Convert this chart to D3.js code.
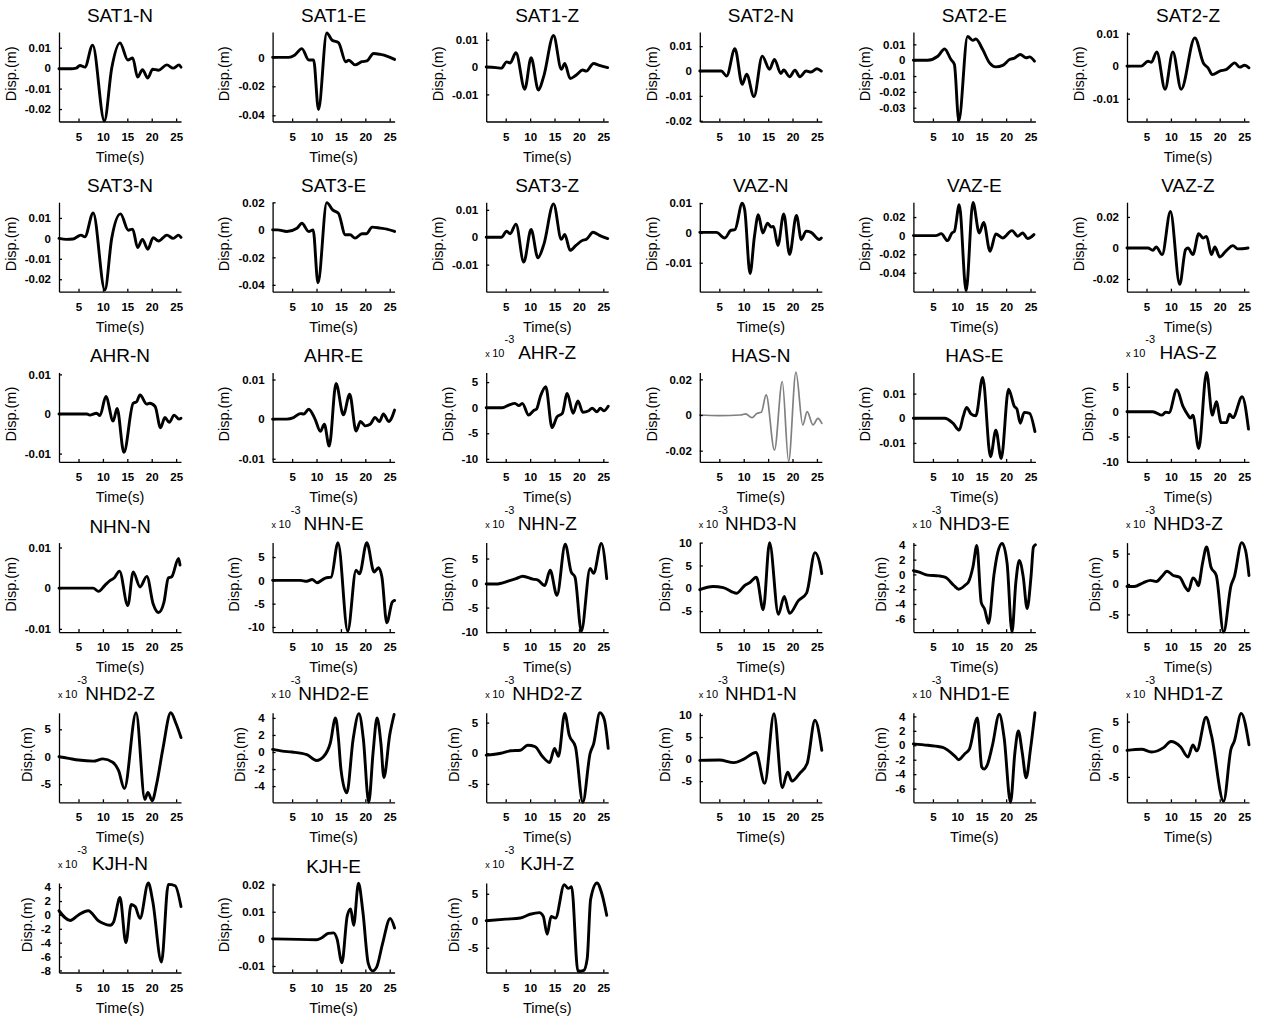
<!DOCTYPE html>
<html>
<head>
<meta charset="utf-8">
<script src="https://cdn.jsdelivr.net/npm/d3@7"></script>
<style>
  body { margin: 0; background: #fff; }
  svg { font-family: "Liberation Sans", Arial, Helvetica, sans-serif; background: #fff; }
  .gfx__axis path, .gfx__axis line { stroke: #000; stroke-width: 1.3; }
  .gfx__axis text { font-size: 11.5px; font-weight: bold; fill: #000; }
  .gfx__title { font-size: 19px; fill: #000; text-anchor: middle; }
  .gfx__label { font-size: 14.5px; fill: #000; text-anchor: middle; }
  .gfx__exp { font-size: 11px; fill: #000; }
  .gfx__trace { fill: none; stroke: #000; stroke-width: 2.9; stroke-linejoin: round; stroke-linecap: round; }
  .gfx__trace.gray { stroke: #808080; stroke-width: 1.7; }
</style>
</head>
<body>
<svg id="waveforms" width="1263" height="1019"></svg>
<script>
// panel titles, left to right, top to bottom
const titles = [
    "SAT1-N", "SAT1-E", "SAT1-Z", "SAT2-N", "SAT2-E", "SAT2-Z",
    "SAT3-N", "SAT3-E", "SAT3-Z", "VAZ-N", "VAZ-E", "VAZ-Z",
    "AHR-N", "AHR-E", "AHR-Z", "HAS-N", "HAS-E", "HAS-Z",
    "NHN-N", "NHN-E", "NHN-Z", "NHD3-N", "NHD3-E", "NHD3-Z",
    "NHD2-Z", "NHD2-E", "NHD2-Z", "NHD1-N", "NHD1-E", "NHD1-Z",
    "KJH-N", "KJH-E", "KJH-Z"
];
// panels whose values are given in units of 10^-3 m
const milliPanels = [14, 17, 19, 20, 21, 22, 23, 24, 25, 26, 27, 28, 29, 30, 32];
const noTimeLabel = [3, 4];
const grayPanels = [15];

const timeRange = [1, 26];
const timeTicks = [5, 10, 15, 20, 25];

const yLimits = [
    [-0.0261, 0.0177], [-0.0443, 0.0175], [-0.0199, 0.0128], [-0.0203, 0.0157], [-0.0387, 0.0178], [-0.017, 0.0105],
    [-0.0261, 0.0177], [-0.045, 0.0201], [-0.0199, 0.0128], [-0.0197, 0.0103], [-0.0604, 0.036], [-0.0282, 0.0295],
    [-0.0121, 0.0105], [-0.0108, 0.0118], [-10.6, 6.9], [-0.0263, 0.0239], [-0.0177, 0.0186], [-10.1, 7.9],
    [-0.0108, 0.0112], [-11.1, 8.1], [-10, 8.25], [-9.6, 10], [-7.8, 4.3], [-7.9, 6.8],
    [-8.3, 8.0], [-5.9, 4.6], [-8, 6.6], [-9.8, 10.5], [-7.9, 4.5], [-9.6, 6.6],
    [-8.3, 4.6], [-0.0124, 0.0206], [-9.6, 7]
];
const yTicks = [
    [-0.02, -0.01, 0, 0.01], [-0.04, -0.02, 0], [-0.01, 0, 0.01], [-0.02, -0.01, 0, 0.01], [-0.03, -0.02, -0.01, 0, 0.01], [-0.01, 0, 0.01],
    [-0.02, -0.01, 0, 0.01], [-0.04, -0.02, 0, 0.02], [-0.01, 0, 0.01], [-0.01, 0, 0.01], [-0.04, -0.02, 0, 0.02], [-0.02, 0, 0.02],
    [-0.01, 0, 0.01], [-0.01, 0, 0.01], [-10, -5, 0, 5], [-0.02, 0, 0.02], [-0.01, 0, 0.01], [-10, -5, 0, 5],
    [-0.01, 0, 0.01], [-10, -5, 0, 5], [-10, -5, 0, 5], [-5, 0, 5, 10], [-6, -4, -2, 0, 2, 4], [-5, 0, 5],
    [-5, 0, 5], [-4, -2, 0, 2, 4], [-5, 0, 5], [-5, 0, 5, 10], [-6, -4, -2, 0, 2, 4], [-5, 0, 5],
    [-8, -6, -4, -2, 0, 2, 4], [-0.01, 0, 0.01, 0.02], [-5, 0, 5]
];

// [time (s), displacement]
const sat1N = [[1,-0.0003],[3.5,-0.0003],[4.5,0],[5.3,0.0013],[6.3,0.0005],[7.9,0.0113],[10.3,-0.0258],[11.8,0],[13.5,0.0124],[15.1,0.004],[16.1,0.005],[17.1,-0.0044],[18.1,-0.0008],[19.2,-0.0048],[20.2,-0.0005],[21.4,-0.001],[23.1,0.0016],[24.4,0],[25.6,0.0016],[26,0.0005]];
const sat1E = [[1,0],[4.3,0],[5.5,0.0015],[7.0,0.006],[8.4,-0.0018],[9.4,-0.0018],[10.4,-0.036],[12.1,0.0168],[13.2,0.0118],[14.5,0.0102],[16.0,-0.003],[16.6,-0.002],[17.9,-0.0052],[19.3,-0.003],[20.3,-0.0025],[21.7,0.0027],[23.1,0.002],[24.4,0.0009],[26,-0.0014]];
const sat1Z = [[1,0],[3,-0.0002],[4.1,-0.0004],[5.2,0.0019],[5.9,0.0015],[7.1,0.0052],[8.9,-0.0081],[10.2,0.0034],[11.7,-0.0084],[12.8,-0.0033],[14.8,0.0115],[16.4,-0.0008],[17.1,0.0013],[18.2,-0.0042],[19.4,-0.003],[20.8,-0.0011],[21.5,-0.0015],[23.0,0.0013],[24.2,0.0006],[25.9,-0.0002]];
const sat2N = [[1,0],[5.4,0],[6.5,-0.002],[8.2,0.009],[9.7,-0.0053],[10.6,-0.0013],[12.1,-0.0103],[13.8,0.006],[15.3,0.0007],[16.3,0.0047],[17.6,-0.001],[18.2,0.0004],[19.4,-0.0023],[20.5,0.0003],[21.5,-0.0023],[22.8,0],[23.8,-0.0004],[25.0,0.0009],[25.9,0]];
const sat2E = [[1,0],[3.9,0],[6.0,0.0025],[7.4,0.0071],[8.7,0.0004],[9.4,-0.0027],[10.3,-0.0383],[12.1,0.015],[13.2,0.0125],[13.8,0.0134],[15.2,0.0067],[16.6,-0.0017],[17.9,-0.0042],[19.3,-0.0033],[20.7,0.0004],[21.7,0.0013],[22.9,0.0036],[24.1,0.0015],[24.8,0.0021],[25.8,-0.0006]];
const sat2Z = [[1,0],[3.9,0],[5.3,0.0015],[6.0,0.0012],[7.1,0.0044],[8.8,-0.0071],[10.4,0.0044],[12.1,-0.0071],[14.9,0.0087],[16.7,0.0008],[17.6,-0.0005],[18.5,-0.0026],[20.0,-0.0015],[21.4,-0.001],[23.1,0.001],[24.1,-0.0003],[25.1,0.0003],[26,-0.0005]];
const sat3N = [[1,0],[2.5,-0.0005],[3.9,-0.0003],[5.5,0.0016],[6.3,0.0008],[8.0,0.0124],[10.4,-0.0253],[11.8,0],[13.6,0.012],[15.2,0.004],[16.1,0.0045],[17.1,-0.0045],[18.1,-0.0005],[19.2,-0.0053],[20.3,0.0003],[21.4,-0.0013],[23.1,0.0016],[24.4,0],[25.5,0.0016],[26,0.0005]];
const sat3E = [[1,0],[2,0],[3.9,-0.0012],[6.0,0.0012],[7.0,0.0048],[8.4,-0.0012],[9.3,0],[10.3,-0.0386],[12.1,0.0198],[13.3,0.0145],[14.5,0.012],[15.9,-0.0036],[16.9,-0.0036],[17.9,-0.006],[19.3,-0.0029],[20.2,-0.0029],[21.4,0.002],[23.1,0.0012],[24.4,0.0005],[26,-0.0012]];
const sat3Z = [[1,0],[4.1,0],[5.2,0.0022],[5.9,0.0013],[7.1,0.0048],[8.7,-0.0091],[10.2,0.0028],[11.6,-0.0075],[12.8,-0.0027],[14.8,0.0122],[16.4,-0.0008],[17.1,0.001],[18.2,-0.0048],[19.4,-0.003],[20.8,-0.0011],[21.5,-0.0008],[22.9,0.0018],[24.2,0.0007],[25.9,-0.0005]];
const vazN = [[1,0.0002],[4.4,0.0002],[6.1,-0.0017],[7.4,0.0009],[8.2,0.0011],[9.7,0.01],[10.2,0.0078],[11.3,-0.0136],[12.2,-0.0011],[13.0,0.0061],[13.9,0],[14.9,0.0033],[15.6,0.002],[16.1,0.0022],[17.0,-0.0042],[18.2,0.0064],[19.4,-0.0072],[20.8,0.0059],[21.8,-0.0022],[22.8,0.0006],[23.8,0.0002],[25.5,-0.0022],[25.9,-0.0017]];
const vazE = [[1,0],[5.6,0],[6.7,0.0021],[8.0,-0.0054],[8.9,0.0029],[9.4,0.0046],[10.4,0.0332],[11.8,-0.0596],[13.2,0.0357],[14.5,0.0029],[15.4,0.0143],[16.7,-0.0168],[17.9,0.0018],[19.3,-0.0025],[21.2,0.0054],[22.4,-0.0007],[23.4,0.0029],[24.4,-0.0032],[25.7,0.0011]];
const vazZ = [[1,0],[5.3,0],[6.3,-0.0015],[7.0,0.0006],[8.2,-0.0043],[9.9,0.0235],[11.8,-0.0235],[13.0,-0.0011],[13.5,0],[14.5,-0.0043],[15.7,0.0092],[16.6,0.0064],[17.3,0.0075],[18.3,-0.0043],[19.0,0.0006],[20.0,-0.0058],[21.4,-0.0015],[22.7,0.0015],[23.7,-0.0006],[25.8,0]];
const ahrN = [[1,0],[6.7,0],[7.3,-0.0003],[8.7,0.0002],[9.4,-0.0004],[10.6,0.0044],[12.1,-0.0018],[12.9,0.0014],[14.3,-0.0097],[16.2,0.0027],[16.9,0.0031],[17.6,0.0048],[19.0,0.0025],[19.6,0.0027],[20.7,0.0019],[21.8,-0.0035],[22.7,-0.0009],[23.6,-0.0021],[24.6,-0.0003],[25.6,-0.0013],[26,-0.0011]];
const ahrE = [[1,0],[3.9,0],[5.3,0.0004],[6.7,0.0014],[7.4,0.0013],[8.4,0.0025],[9.7,0],[10.8,-0.0031],[11.6,-0.0013],[12.6,-0.0068],[14.0,0.009],[15.5,0.0011],[16.8,0.0063],[18.1,-0.003],[19.0,-0.0006],[20.0,-0.0017],[21.0,-0.0013],[22.0,0.0004],[22.9,-0.0006],[23.7,0.0013],[24.8,-0.0006],[26,0.0023]];
const ahrZ = [[1,0],[4.3,0],[5.6,0.5],[6.9,0.85],[7.7,0.4],[8.4,0.85],[9.7,-1.44],[10.8,-0.5],[11.3,-0.3],[12.1,2.2],[13.2,4.1],[14.5,-3.9],[15.5,-1.8],[16.6,-1.1],[17.6,2.8],[18.8,-1.1],[19.8,1.3],[20.8,-0.9],[22.0,-0.6],[22.7,-0.1],[23.7,-0.8],[24.4,-0.1],[25.1,-0.6],[26,0.3]];
const hasN = [[1,0],[5,-0.0003],[9.3,0],[10.4,0.0006],[11.7,-0.0015],[12.7,0.0009],[13.6,0.0015],[14.6,0.0113],[16.3,-0.0197],[17.9,0.0188],[19.2,-0.026],[20.7,0.024],[22.1,-0.0056],[23.0,0.0019],[24.2,-0.0056],[25.2,-0.0019],[26,-0.0047]];
const hasE = [[1,0],[7.4,0],[9.1,-0.002],[10.4,-0.0048],[11.2,0.0007],[11.9,0.0044],[12.8,0.0018],[13.8,0.001],[15.2,0.0166],[16.8,-0.0156],[17.9,-0.0048],[19.0,-0.0163],[20.5,0.0118],[21.7,0.0048],[22.2,0.0038],[22.9,-0.002],[23.7,0.0024],[24.8,0.002],[25.9,-0.0054]];
const hasZ = [[1,0],[6.3,0],[8.2,-0.7],[8.9,-0.1],[9.6,-0.2],[11.2,4.4],[12.5,1.0],[13.5,-0.7],[14.0,-1.3],[14.5,-0.7],[15.7,-7.4],[17.3,7.9],[18.5,-0.7],[19.3,2.0],[20.3,-2.2],[21.4,-2.2],[22.0,-0.5],[22.7,-1.2],[24.6,3.0],[25.9,-3.5]];
const nhnN = [[1,0],[8.0,0],[9.1,-0.0008],[10.4,0.0007],[11.5,0.0019],[12.3,0.0025],[13.4,0.0042],[15.1,-0.0043],[16.2,0.004],[17.6,0.0003],[19.0,0.0029],[20.3,-0.0039],[21.4,-0.006],[22.5,-0.0035],[23.4,0.0025],[24.1,0.0028],[25.5,0.0073],[25.8,0.0057]];
const nhnE = [[1,0],[6.7,0],[8.0,-0.2],[9.1,0.2],[10.1,-0.5],[11.8,0.5],[13.0,0.7],[14.4,8.1],[16.4,-10.9],[18.1,2.2],[18.8,1.4],[20.3,8.1],[21.8,1.8],[22.7,2.7],[23.4,0.7],[24.4,-9.1],[25.5,-4.7],[26,-4.3]];
const nhnZ = [[1,-0.2],[3.0,-0.2],[5.8,0.5],[7.1,0.9],[8.5,1.4],[10.6,0.8],[11.6,0.6],[13.0,-0.5],[14.1,2.6],[15.5,-2.5],[17.2,7.9],[18.4,2.3],[19.2,1.2],[20.5,-9.8],[22.3,3.0],[23.0,2.0],[24.6,8.1],[25.7,0.9]];
const nhd3N = [[1,-0.3],[3.7,0.4],[5.8,0.15],[8.5,-1.1],[10.2,0.6],[11.2,1.2],[12.6,2.4],[14.0,-4.7],[15.3,10],[17.1,-5.7],[18.3,-1.8],[19.4,-5.5],[21.2,-2.7],[22.9,-1.0],[24.6,7.8],[25.6,5.4],[26,3.2]];
const nhd3E = [[1,0.5],[2.2,0.3],[3.9,-0.1],[6.2,-0.2],[7.6,-0.4],[9.3,-1.5],[10.3,-2.0],[11.7,-1.4],[12.3,-1.0],[13.2,1.0],[14.0,3.9],[14.9,-3.8],[15.6,-4.7],[16.4,-6.6],[17.5,-0.1],[18.3,3.0],[19.2,4.2],[20.2,1.5],[21.2,-7.8],[22.0,-1.0],[22.7,1.9],[23.5,-0.3],[24.3,-4.6],[25.1,-0.3],[25.6,3.7],[26,4.0]];
const nhd3Z = [[1,-0.4],[2.5,-0.4],[4.3,0.2],[5.8,0.6],[7,0.4],[8.2,1.3],[9.2,2.1],[10.5,1.4],[11.8,1.1],[13.0,-0.6],[13.6,-1.1],[14.5,1.0],[15.2,0.4],[15.6,-0.3],[16.5,3.5],[17.3,6.1],[18.2,2.8],[19.3,1.4],[20.8,-7.9],[22.3,-0.3],[23,1.2],[24.5,6.8],[25.3,5.5],[26,1.4]];
const nhd2N = [[1,0],[3,-0.3],[5,-0.6],[8,-0.8],[10,-0.4],[12,-1.0],[13.2,-2.5],[14.4,-5.8],[16.8,8.0],[18.6,-7.8],[19.2,-6.5],[20.1,-8.0],[21,-5],[22.3,1.5],[23.9,8.0],[25,6],[26,3.5]];
const nhd2E = [[1,0.3],[3,0.1],[5,0],[8,-0.3],[10,-1.0],[11.5,-0.5],[12.8,1.0],[13.9,4.0],[14.5,1.5],[15,-2],[16.2,-4.8],[17.5,1.5],[18.7,4.5],[19.6,1.5],[20.7,-5.9],[21.6,0],[22.4,4.0],[23.2,1],[23.8,-3.0],[25.0,2],[25.9,4.4]];
const nhd2Z = [[1,-0.3],[4,0],[6,0.4],[8,0.5],[9.5,1.3],[11,1.1],[12.5,-0.5],[14,-1.5],[15,0.8],[15.8,-0.5],[17.1,6.5],[18,3],[19.3,1],[20.8,-8],[22.3,0],[23,1.5],[24.3,6.6],[25.2,5.5],[26,0.8]];
const nhd1N = [[1,-0.3],[5,-0.2],[8,-0.8],[10,0],[12.5,1.5],[14.3,-5.5],[16.2,10.3],[17.9,-6.5],[19.0,-3.0],[19.9,-5.0],[21.5,-3.2],[23,-1],[24.6,8.8],[26,2]];
const nhd1E = [[1,0.2],[4,0],[7,-0.3],[9.5,-1.5],[10.3,-2],[11.5,-1.2],[12.5,-0.5],[14.1,3.8],[15,-3],[15.5,-3.3],[16.1,-2.8],[17.2,0],[18.6,4.3],[19.6,1],[20.9,-7.9],[21.8,-1],[22.5,2],[23.3,-1],[24.1,-4.5],[25,-0.5],[25.9,4.5]];
const nhd1Z = [[1,-0.2],[4,0],[6,-0.5],[8.5,0.3],[10,1.4],[12,0.4],[13.5,-1.4],[14.5,0.8],[15.3,-0.3],[17.2,5.8],[18.3,2.5],[20.8,-9.4],[22.3,0],[23,1.5],[24.4,6.5],[26,0.8]];
const kjhN = [[1,0.6],[3.3,-0.8],[5,0],[7,0.6],[9,-0.8],[10,-1.2],[11.5,-1.5],[12.2,-1.0],[13.5,2.5],[14.7,-4.0],[15.8,1.5],[16.6,1.2],[17.6,-0.5],[19.3,4.6],[20.2,2],[22.0,-6.8],[23.4,4.4],[24.8,4.2],[26,1.2]];
const kjhE = [[1,0],[10,-0.0003],[11,0.0003],[12.4,0.002],[13.5,0.0022],[14.2,0],[15.2,-0.0088],[16.3,0.0085],[17.0,0.011],[17.6,0.005],[18.6,0.0205],[19.5,0.01],[20.6,-0.009],[21.5,-0.0118],[22.3,-0.0105],[23.5,-0.002],[25.1,0.0075],[26,0.004]];
const kjhZ = [[1,0],[5,0.3],[8,0.5],[10,1.2],[11.9,1.5],[12.7,0.8],[13.5,-2.5],[14.3,0.8],[15.2,0.5],[17.0,6.7],[17.8,6.0],[18.5,6.3],[19.8,-9.4],[21.0,-9.2],[21.7,-7],[22.4,4],[23.7,7.0],[24.7,5.0],[25.7,1.0]];

const traces = [
    sat1N, sat1E, sat1Z, sat2N, sat2E, sat2Z,
    sat3N, sat3E, sat3Z, vazN, vazE, vazZ,
    ahrN, ahrE, ahrZ, hasN, hasE, hasZ,
    nhnN, nhnE, nhnZ, nhd3N, nhd3E, nhd3Z,
    nhd2N, nhd2E, nhd2Z, nhd1N, nhd1E, nhd1Z,
    kjhN, kjhE, kjhZ
];

// grid of axes
const grid = {cols: 6, left: 59, top: 32, colStep: 213.6, rowStep: 170.2, width: 122, height: 89.5};

const tickFormat = d => String(+d.toFixed(4));

const drawPanel = function(svg, i) {
    const col = i % grid.cols;
    const row = Math.floor(i / grid.cols);
    const isMilli = milliPanels.includes(i);
    const panel = svg.append("g")
        .attr("transform", `translate(${grid.left + col * grid.colStep},${grid.top + row * grid.rowStep})`);

    const scaleX = d3.scaleLinear().domain(timeRange).range([0, grid.width]);
    const scaleY = d3.scaleLinear().domain(yLimits[i]).range([grid.height, 0]);

    const line = d3.line()
        .x(d => scaleX(d[0]))
        .y(d => scaleY(d[1]))
        .curve(d3.curveMonotoneX);
    panel.append("path")
        .datum(traces[i])
        .attr("class", grayPanels.includes(i) ? "gfx__trace gray" : "gfx__trace")
        .attr("d", line);

    panel.append("g")
        .attr("class", "gfx__axis")
        .attr("transform", `translate(0,${grid.height})`)
        .call(d3.axisBottom(scaleX).tickValues(timeTicks).tickSizeInner(-3).tickSizeOuter(0).tickPadding(11));

    const axisY = panel.append("g")
        .attr("class", "gfx__axis")
        .call(d3.axisLeft(scaleY).tickValues(yTicks[i]).tickFormat(tickFormat)
            .tickSizeInner(-3).tickSizeOuter(0).tickPadding(8));
    panel.selectAll(".gfx__axis").attr("font-family", null).attr("font-size", null);

    const labelsLeft = axisY.node().getBBox().x;
    panel.append("text")
        .attr("class", "gfx__label")
        .attr("transform", `translate(${labelsLeft - 9},${grid.height / 2 - 3}) rotate(-90)`)
        .text("Disp.(m)");

    if (!noTimeLabel.includes(i)) {
        panel.append("text")
            .attr("class", "gfx__label")
            .attr("x", grid.width / 2)
            .attr("y", grid.height + 40)
            .text("Time(s)");
    }

    panel.append("text")
        .attr("class", "gfx__title")
        .attr("x", grid.width / 2)
        .attr("y", isMilli ? -13 : -10)
        .text(titles[i]);

    if (isMilli) {
        const exp = panel.append("text")
            .attr("class", "gfx__exp")
            .attr("x", -1)
            .attr("y", -15);
        exp.append("tspan").attr("font-size", 9).text("x ");
        exp.append("tspan").text("10");
        exp.append("tspan")
            .attr("dy", -14)
            .text("-3");
    }
}

const svg = d3.select("#waveforms");
titles.forEach((t, i) => drawPanel(svg, i));
</script>
</body>
</html>
